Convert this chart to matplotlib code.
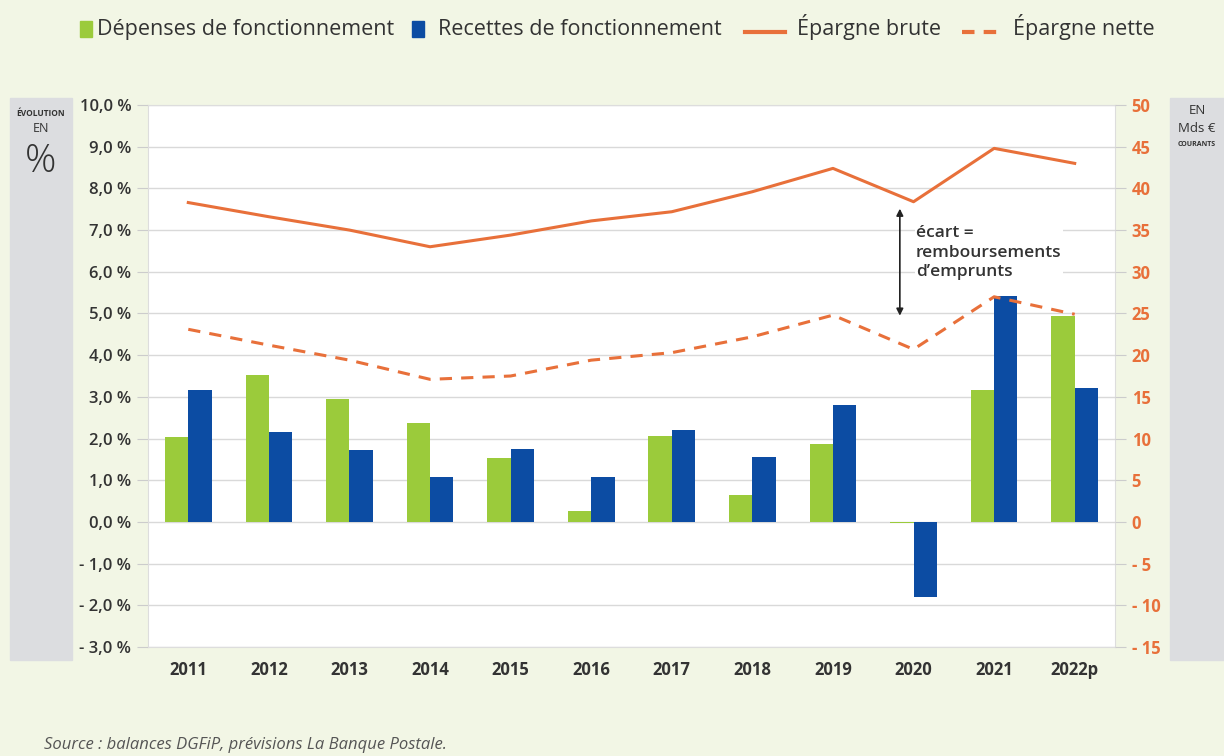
import matplotlib
matplotlib.use('Agg')
import matplotlib.pyplot as plt
from matplotlib.patches import Rectangle
from matplotlib.lines import Line2D
import numpy as np

plt.rcParams['font.family'] = ['Open Sans', 'DejaVu Sans']

years = ['2011', '2012', '2013', '2014', '2015', '2016', '2017', '2018', '2019', '2020', '2021', '2022p']
depenses = [2.04, 3.53, 2.95, 2.37, 1.53, 0.26, 2.06, 0.65, 1.87, -0.03, 3.17, 4.94]
recettes = [3.17, 2.16, 1.73, 1.08, 1.75, 1.08, 2.21, 1.56, 2.81, -1.80, 5.42, 3.21]
epargne_brute = [38.3, 36.6, 35.0, 33.0, 34.4, 36.1, 37.2, 39.6, 42.4, 38.4, 44.8, 43.0]
epargne_nette = [23.1, 21.2, 19.4, 17.1, 17.5, 19.4, 20.3, 22.2, 24.8, 20.7, 27.0, 24.9]

left_ticks = np.arange(-3, 11)
right_ticks = np.arange(-15, 55, 5)

GREEN = '#9bcb3b'
BLUE = '#0c4ca3'
ORANGE = '#e8703a'
BG = '#f2f6e5'
PANEL = '#dcdde0'
TXT = '#333333'

W, H = 1224, 756
fig = plt.figure(figsize=(W / 100, H / 100), dpi=100, facecolor=BG)
ax = fig.add_axes([148 / W, 1 - 647 / H, 967 / W, 542 / H])
ax.set_facecolor('white')

x = np.arange(len(years))
w = 0.29
ax.bar(x - w / 2, depenses, w, color=GREEN, zorder=3)
ax.bar(x + w / 2, recettes, w, color=BLUE, zorder=3)
ax.set_xlim(-0.5, len(years) - 0.5)
ax.set_ylim(-3, 10)
ax.set_yticks(left_ticks)
ax.set_yticklabels([('- ' if v < 0 else '') + '%d,0 %%' % abs(v) for v in left_ticks],
                   fontsize=12, fontweight='semibold', color=TXT)
ax.set_xticks(x)
ax.set_xticklabels(years, fontsize=12, fontweight='bold', color=TXT)
ax.tick_params(axis='x', length=0, pad=10)
ax.tick_params(axis='y', length=8, color='#cccccc', pad=4)
ax.grid(axis='y', color='#d9d9d9', lw=1, zorder=0)
for s in ax.spines.values():
    s.set_color('#dddddd')

ax2 = ax.twinx()
ax2.plot(x, epargne_brute, color=ORANGE, lw=2.2, zorder=4)
ax2.plot(x, epargne_nette, color=ORANGE, lw=2.2, ls=(0, (4, 3)), zorder=4)
ax2.set_ylim(-15, 50)
ax2.set_yticks(right_ticks)
ax2.set_yticklabels([('- ' if v < 0 else '') + str(abs(v)) for v in right_ticks],
                    fontsize=12, fontweight='bold', color=ORANGE)
ax2.tick_params(axis='y', length=8, color='#cccccc', pad=4)
for s in ax2.spines.values():
    s.set_visible(False)

# annotation ecart
ax2.annotate('', xy=(8.83, 24.4), xytext=(8.83, 37.9),
             arrowprops=dict(arrowstyle='<|-|>', color='#222222', lw=1.2, mutation_scale=10))
ax2.text(9.03, 35.6, 'écart =\nremboursements\nd\u2019emprunts', fontsize=12.5,
         fontweight='semibold', color=TXT, va='top', ha='left', linespacing=1.3,
         bbox=dict(facecolor='white', edgecolor='none', pad=1))

# side panels
fig.patches.append(Rectangle((10 / W, 1 - 660 / H), 62 / W, 562 / H,
                             transform=fig.transFigure, color=PANEL, zorder=0))
fig.patches.append(Rectangle((1170 / W, 1 - 660 / H), 54 / W, 562 / H,
                             transform=fig.transFigure, color=PANEL, zorder=0))
fig.text(41 / W, 1 - 113 / H, 'ÉVOLUTION', fontsize=6, fontweight='bold', color=TXT, ha='center', va='center')
fig.text(41 / W, 1 - 129 / H, 'EN', fontsize=9, color=TXT, ha='center', va='center')
fig.text(41 / W, 1 - 162 / H, '%', fontsize=28, fontweight='light', color=TXT, ha='center', va='center')
fig.text(1197 / W, 1 - 110 / H, 'EN', fontsize=9.5, color=TXT, ha='center', va='center')
fig.text(1197 / W, 1 - 128 / H, 'Mds €', fontsize=9.5, color=TXT, ha='center', va='center')
fig.text(1197 / W, 1 - 144 / H, 'COURANTS', fontsize=5, fontweight='bold', color=TXT, ha='center', va='center')

# legend drawn by hand (squares + long line keys)
ly = 1 - 35 / H
fig.patches.append(Rectangle((80 / W, 1 - 37 / H), 12 / W, 16 / H, transform=fig.transFigure, color=GREEN))
fig.patches.append(Rectangle((412 / W, 1 - 37 / H), 12 / W, 16 / H, transform=fig.transFigure, color=BLUE))
fig.lines.append(Line2D([745 / W, 785 / W], [1 - 32 / H] * 2, transform=fig.transFigure, color=ORANGE, lw=3))
fig.lines.append(Line2D([962 / W, 1003 / W], [1 - 32 / H] * 2, transform=fig.transFigure, color=ORANGE, lw=3,
                        ls=(0, (3, 2.2))))
for px, lab in [(97, 'Dépenses de fonctionnement'), (438, 'Recettes de fonctionnement'),
                (797, 'Épargne brute'), (1013, 'Épargne nette')]:
    fig.text(px / W, ly, lab, fontsize=15.5, color=TXT, ha='left', va='baseline')

fig.text(44 / W, 1 - 745 / H, 'Source : balances DGFiP, prévisions La Banque Postale.',
         fontsize=12, style='italic', color='#555555', ha='left', va='center')

fig.savefig('out.png', dpi=100, facecolor=BG)
